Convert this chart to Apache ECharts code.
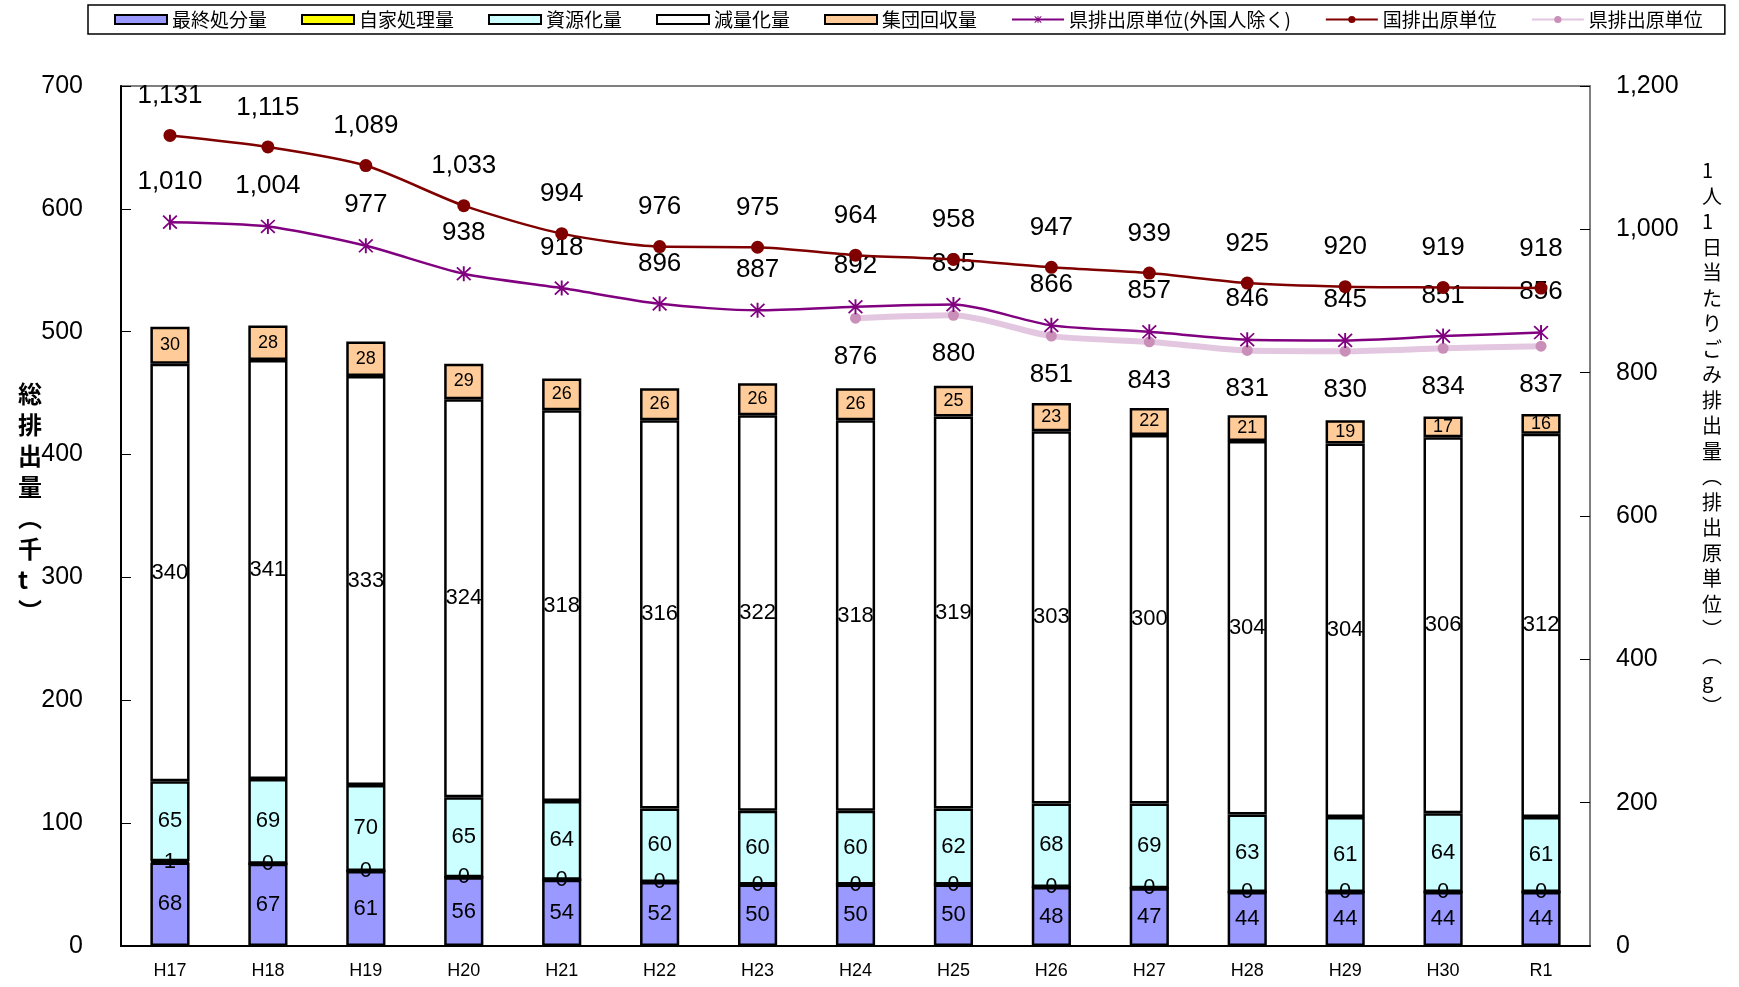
<!DOCTYPE html>
<html lang="ja">
<head>
<meta charset="UTF-8">
<title>ごみ排出量の推移</title>
<script src="https://cdn.jsdelivr.net/npm/echarts@6/dist/echarts.min.js"></script>
<style>
  html, body { margin: 0; padding: 0; background: #fff; }
  #main { width: 1739px; height: 987px; }
</style>
</head>
<body>
<div id="main"></div>
<script>
  // 年度
  var years = ['H17', 'H18', 'H19', 'H20', 'H21', 'H22', 'H23', 'H24', 'H25', 'H26', 'H27', 'H28', 'H29', 'H30', 'R1'];
  // 棒（千t）
  var finalDisposal = [68, 67, 61, 56, 54, 52, 50, 50, 50, 48, 47, 44, 44, 44, 44];
  var selfTreatment = [1, 0, 0, 0, 0, 0, 0, 0, 0, 0, 0, 0, 0, 0, 0];
  var recycled = [65, 69, 70, 65, 64, 60, 60, 60, 62, 68, 69, 63, 61, 64, 61];
  var reduced = [340, 341, 333, 324, 318, 316, 322, 318, 319, 303, 300, 304, 304, 306, 312];
  var groupCollect = [30, 28, 28, 29, 26, 26, 26, 26, 25, 23, 22, 21, 19, 17, 16];
  // 折れ線（g）
  var nationUnit = [1131, 1115, 1089, 1033, 994, 976, 975, 964, 958, 947, 939, 925, 920, 919, 918];
  var prefUnitExcl = [1010, 1004, 977, 938, 918, 896, 887, 892, 895, 866, 857, 846, 845, 851, 856];
  var prefUnit = [null, null, null, null, null, null, null, 876, 880, 851, 843, 831, 830, 834, 837];
  // 目盛
  var leftTicks = { min: 0, max: 700, interval: 100 };
  var rightTicks = { min: 0, max: 1200, interval: 200 };

  var numFont = 'Liberation Sans';
  var jpFont = 'Noto Sans CJK JP';

  function comma(v) {
    return String(v).replace(/\B(?=(\d{3})+(?!\d))/g, ',');
  }

  // 棒グラフ共通
  function barSeries(name, data, color, labelSize) {
    return {
      name: name,
      type: 'bar',
      stack: 'total',
      barWidth: '40%',
      data: data,
      itemStyle: { color: color, borderColor: '#000', borderWidth: 2.5 },
      label: {
        show: true,
        position: 'inside',
        color: '#000',
        fontFamily: numFont,
        fontSize: labelSize
      },
      z: 2
    };
  }

  var asterisk = 'path://M4.4 0H5.6V10H4.4Z M0.3 1.1L1.1 0.3L9.7 8.9L8.9 9.7Z M8.9 0.3L9.7 1.1L1.1 9.7L0.3 8.9Z';

  var myChart = echarts.init(document.getElementById('main'));

  myChart.setOption({
    backgroundColor: '#fff',
    animation: false,
    textStyle: { fontFamily: jpFont },
    legend: {
      left: 88,
      top: 5,
      padding: [5, 22, 5, 26],
      borderColor: '#000',
      borderWidth: 1.5,
      itemWidth: 52,
      itemHeight: 9,
      itemGap: 34,
      textStyle: { fontFamily: jpFont, fontSize: 19, color: '#000' },
      data: [
        { name: '最終処分量', icon: 'rect' },
        { name: '自家処理量', icon: 'rect' },
        { name: '資源化量', icon: 'rect' },
        { name: '減量化量', icon: 'rect' },
        { name: '集団回収量', icon: 'rect' },
        '県排出原単位(外国人除く)',
        '国排出原単位',
        '県排出原単位'
      ]
    },
    grid: {
      left: 121,
      right: 149,
      top: 86,
      bottom: 41,
      show: true,
      borderColor: '#808080',
      borderWidth: 2
    },
    xAxis: {
      type: 'category',
      data: years,
      axisLine: { lineStyle: { color: '#000', width: 2 } },
      axisTick: { inside: true, length: 6, lineStyle: { color: '#000' } },
      axisLabel: { color: '#000', fontFamily: numFont, fontSize: 18, margin: 16 }
    },
    yAxis: [
      {
        type: 'value',
        min: leftTicks.min,
        max: leftTicks.max,
        interval: leftTicks.interval,
        axisLine: { show: true, lineStyle: { color: '#000', width: 2 } },
        axisTick: { show: true, inside: true, length: 10, lineStyle: { color: '#000' } },
        splitLine: { show: false },
        axisLabel: { color: '#000', fontFamily: numFont, fontSize: 25, margin: 38 }
      },
      {
        type: 'value',
        min: rightTicks.min,
        max: rightTicks.max,
        interval: rightTicks.interval,
        axisLine: { show: true, lineStyle: { color: '#808080', width: 2 } },
        axisTick: { show: true, inside: true, length: 10, lineStyle: { color: '#000' } },
        splitLine: { show: false },
        axisLabel: {
          color: '#000',
          fontFamily: numFont,
          fontSize: 25,
          margin: 26,
          formatter: function (v) { return comma(v); }
        }
      }
    ],
    series: [
      barSeries('最終処分量', finalDisposal, '#9999FF', 22),
      barSeries('自家処理量', selfTreatment, '#FFFF00', 22),
      barSeries('資源化量', recycled, '#CCFFFF', 22),
      barSeries('減量化量', reduced, '#FFFFFF', 22),
      barSeries('集団回収量', groupCollect, '#FFCC99', 18),
      {
        name: '県排出原単位',
        type: 'line',
        yAxisIndex: 1,
        data: prefUnit,
        smooth: 0.25,
        symbol: 'circle',
        symbolSize: 11,
        itemStyle: { color: '#C98FB8' },
        lineStyle: { color: '#E3C6DF', width: 6 },
        label: {
          show: true,
          position: 'bottom',
          distance: 20,
          color: '#000',
          fontFamily: numFont,
          fontSize: 26,
          formatter: function (p) { return comma(p.value); }
        },
        z: 3
      },
      {
        name: '県排出原単位(外国人除く)',
        type: 'line',
        yAxisIndex: 1,
        data: prefUnitExcl,
        smooth: 0.25,
        symbol: asterisk,
        symbolSize: 15,
        itemStyle: { color: '#800080' },
        lineStyle: { color: '#800080', width: 2.5 },
        label: {
          show: true,
          position: 'top',
          distance: 20,
          color: '#000',
          fontFamily: numFont,
          fontSize: 26,
          formatter: function (p) { return comma(p.value); }
        },
        z: 4
      },
      {
        name: '国排出原単位',
        type: 'line',
        yAxisIndex: 1,
        data: nationUnit,
        smooth: 0.25,
        symbol: 'circle',
        symbolSize: 13,
        itemStyle: { color: '#800000' },
        lineStyle: { color: '#800000', width: 2.5 },
        label: {
          show: true,
          position: 'top',
          distance: 20,
          color: '#000',
          fontFamily: numFont,
          fontSize: 26,
          formatter: function (p) { return comma(p.value); }
        },
        z: 5
      }
    ],
    graphic: [
      {
        type: 'text',
        left: 18,
        top: 378,
        style: {
          text: '総\n排\n出\n量\n︵\n千\nt\n︶',
          fontFamily: jpFont,
          fontSize: 24,
          fontWeight: 'bold',
          lineHeight: 31,
          align: 'center',
          fill: '#000'
        }
      },
      {
        type: 'text',
        left: 1702,
        top: 158,
        style: {
          text: '1\n人\n1\n日\n当\nた\nり\nご\nみ\n排\n出\n量\n︵\n排\n出\n原\n単\n位\n︶\n︵\ng\n︶',
          fontFamily: jpFont,
          fontSize: 20,
          lineHeight: 25.5,
          align: 'center',
          fill: '#000'
        }
      }
    ]
  });
</script>
</body>
</html>
